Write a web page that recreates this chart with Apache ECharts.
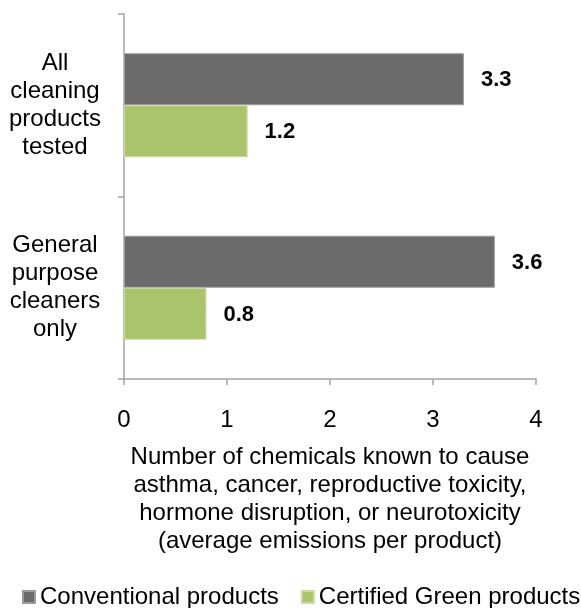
<!DOCTYPE html>
<html>
<head>
<meta charset="utf-8">
<script src="https://cdn.jsdelivr.net/npm/echarts@6/dist/echarts.min.js"></script>
<style>
  html, body { margin: 0; padding: 0; background: #fff; }
  #chart { width: 581px; height: 608px; }
</style>
</head>
<body>
<div id="chart"></div>
<script>
// Product groups (top to bottom) and average number of harmful chemicals emitted
const categories = ['All\ncleaning\nproducts\ntested', 'General\npurpose\ncleaners\nonly'];
const conventional = [3.3, 3.6];
const certifiedGreen = [1.2, 0.8];
const seriesNames = ['Conventional products', 'Certified Green products'];
const axisTitle = 'Number of chemicals known to cause\nasthma, cancer, reproductive toxicity,\nhormone disruption, or neurotoxicity\n(average emissions per product)';

const FONT = '"Liberation Sans", Arial, sans-serif';
const AXIS_COLOR = '#a3a3a3';

const chart = echarts.init(document.getElementById('chart'), null, { renderer: 'canvas' });

const valueLabel = {
  show: true,
  position: 'right',
  distance: 17,
  offset: [0, 1],
  formatter: p => p.value.toFixed(1),
  color: '#000',
  fontFamily: FONT,
  fontWeight: 'bold',
  fontSize: 22
};

chart.setOption({
  animation: false,
  backgroundColor: '#fff',
  textStyle: { fontFamily: FONT },
  grid: { left: 124, right: 45, top: 14, bottom: 229, containLabel: false },
  xAxis: {
    type: 'value',
    min: 0,
    max: 4,
    interval: 1,
    axisLine: { show: true, lineStyle: { color: AXIS_COLOR, width: 1.5 } },
    axisTick: { show: true, length: 6, lineStyle: { color: AXIS_COLOR, width: 1.5 } },
    splitLine: { show: false },
    axisLabel: { color: '#000', fontSize: 24, fontFamily: FONT, margin: 29 },
    name: axisTitle,
    nameLocation: 'middle',
    nameGap: 64,
    nameTextStyle: { color: '#000', fontSize: 24, lineHeight: 28, fontFamily: FONT, align: 'center' }
  },
  yAxis: {
    type: 'category',
    inverse: true,
    data: categories,
    axisLine: { show: true, lineStyle: { color: AXIS_COLOR, width: 1.5 } },
    axisTick: { show: true, length: 6, alignWithLabel: false, lineStyle: { color: AXIS_COLOR, width: 1.5 } },
    axisLabel: {
      color: '#000',
      fontSize: 24,
      lineHeight: 28,
      fontFamily: FONT,
      align: 'center',
      margin: 69
    }
  },
  legend: {
    top: 585,
    left: 22,
    width: 600,
    padding: 0,
    itemWidth: 12,
    itemHeight: 12,
    itemGap: 22,
    icon: 'rect',
    textStyle: { color: '#000', fontSize: 24, fontFamily: FONT },
    data: seriesNames
  },
  series: [
    {
      name: seriesNames[0],
      type: 'bar',
      data: conventional,
      barGap: '0%',
      barCategoryGap: '43%',
      itemStyle: { color: '#6b6b6b', borderColor: '#9c9c9c', borderWidth: 1 },
      label: valueLabel
    },
    {
      name: seriesNames[1],
      type: 'bar',
      data: certifiedGreen,
      barGap: '0%',
      barCategoryGap: '43%',
      itemStyle: { color: '#a9c46b', borderColor: '#cadca3', borderWidth: 1 },
      label: valueLabel
    }
  ]
});
</script>
</body>
</html>
